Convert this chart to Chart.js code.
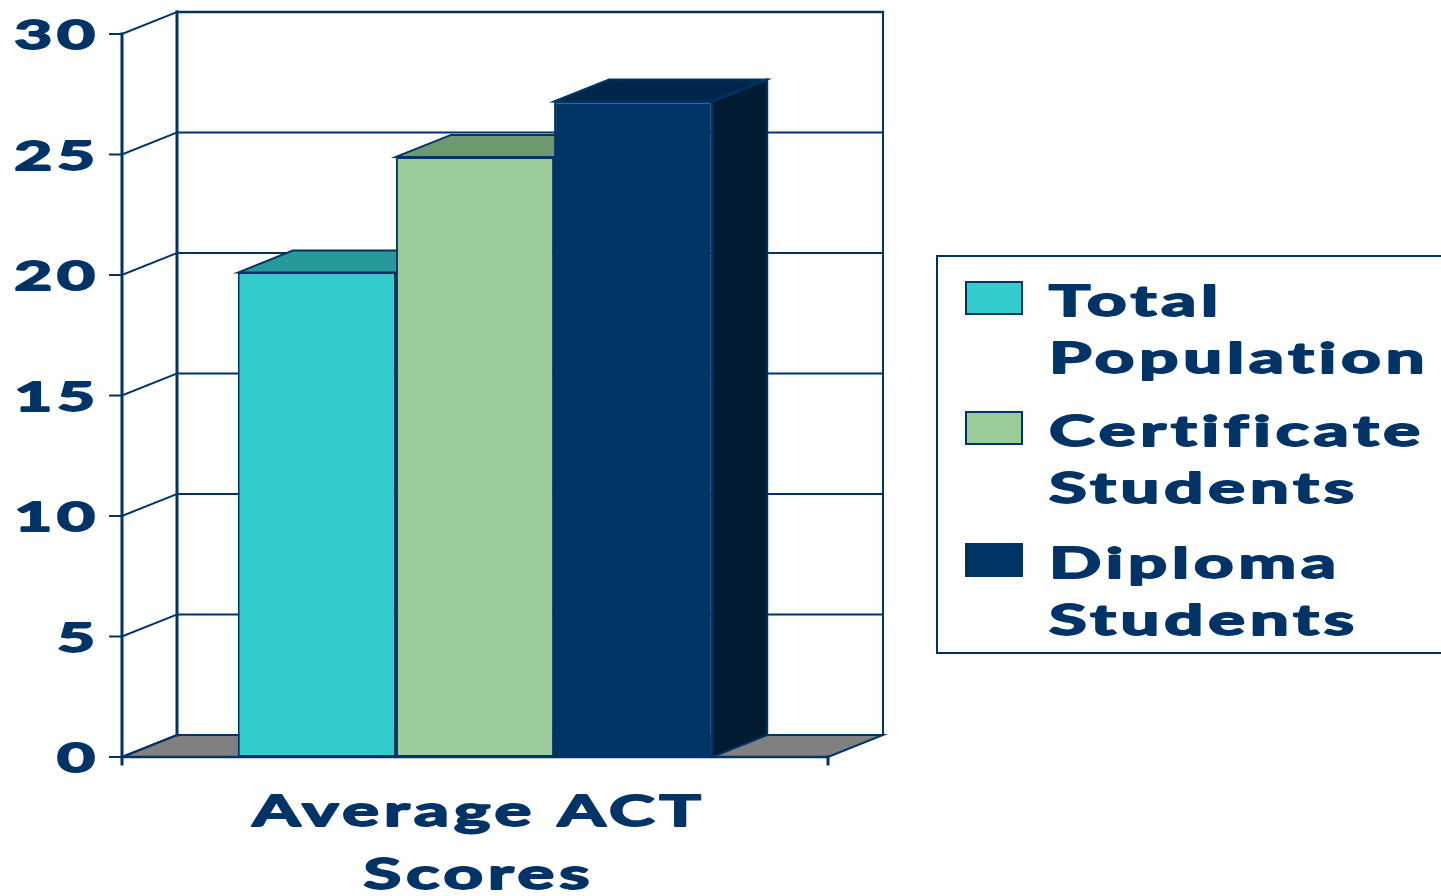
<!DOCTYPE html>
<html lang="en">
<head>
  <meta charset="UTF-8" />
  <title>Average ACT Scores</title>
  <style>
    html, body { margin: 0; padding: 0; background: #fff; }
    #grafico { display: block; }
  </style>
</head>
<body>
  <canvas id="grafico" width="1441" height="896"></canvas>

  <script src="https://cdn.jsdelivr.net/npm/chart.js"></script>
  <script>
    // dados
    const categorias = ['Average ACT Scores'];
    const rotuloEixoX = ['Average ACT', 'Scores'];
    const series = ['Total Population', 'Certificate Students', 'Diploma Students'];
    const seriesLinhas = [['Total', 'Population'], ['Certificate', 'Students'], ['Diploma', 'Students']];
    const valores = [20.1, 24.9, 27.2];
    const ticksY = [0, 5, 10, 15, 20, 25, 30];

    // cores
    const azul = '#003366';
    const corFrente = ['#33CCCC', '#99CC99', '#003366'];
    const corTopo = ['#279999', '#6E9970', '#00264C'];
    const corLado = ['#1F7A7A', '#587A5A', '#021B33'];

    // profundidade do efeito 3d
    const dx = 55;
    const dy = -22;
    const fonte = '"Lato", "DejaVu Sans", sans-serif';
    const espaco = '3px';
    let esticar = 1.7;

    function textoEsticado(ctx, texto, x, y, alinhamento, tamanho) {
      ctx.save();
      ctx.font = 'bold ' + tamanho + 'px ' + fonte;
      ctx.letterSpacing = espaco;
      ctx.fillStyle = azul;
      ctx.strokeStyle = azul;
      ctx.lineWidth = 1.8;
      ctx.lineJoin = 'round';
      ctx.textBaseline = 'alphabetic';
      const w = ctx.measureText(texto).width * esticar;
      let x0 = x;
      if (alinhamento === 'right') x0 = x - w;
      if (alinhamento === 'center') x0 = x - w / 2;
      ctx.translate(x0, y);
      ctx.scale(esticar, 1);
      ctx.textAlign = 'left';
      ctx.fillText(texto, 0, 0);
      ctx.strokeText(texto, 0, 0);
      ctx.restore();
    }

    function linha(ctx, x1, y1, x2, y2, largura) {
      ctx.beginPath();
      ctx.moveTo(x1, y1);
      ctx.lineTo(x2, y2);
      ctx.lineWidth = largura;
      ctx.strokeStyle = azul;
      ctx.stroke();
    }

    const plugin3d = {
      id: 'plugin3d',
      beforeDatasetsDraw(chart) {
        const ctx = chart.ctx;
        const area = chart.chartArea;
        const y = chart.scales.y;
        const base = y.getPixelForValue(0);

        ctx.save();
        ctx.lineCap = 'square';

        // chao
        ctx.beginPath();
        ctx.moveTo(area.left, base);
        ctx.lineTo(area.right, base);
        ctx.lineTo(area.right + dx, base + dy);
        ctx.lineTo(area.left + dx, base + dy);
        ctx.closePath();
        ctx.fillStyle = '#808080';
        ctx.fill();
        ctx.lineWidth = 2;
        ctx.strokeStyle = azul;
        ctx.stroke();

        // parede do fundo e grade
        ticksY.forEach(v => {
          const py = y.getPixelForValue(v);
          linha(ctx, area.left + dx, py + dy, area.right + dx, py + dy, v === 30 ? 2.5 : 1.8);
          linha(ctx, area.left, py, area.left + dx, py + dy, 2);
          linha(ctx, area.left - 12, py, area.left, py, 2);
        });
        linha(ctx, area.left + dx, area.top + dy, area.left + dx, base + dy, 3);
        linha(ctx, area.right + dx, area.top + dy, area.right + dx, base + dy, 2);
        linha(ctx, area.left, area.top, area.left, base + 7, 3);
        linha(ctx, area.left, base, area.right, base, 2.5);
        linha(ctx, area.right, base, area.right, base + 7, 3);

        // lados e topos das barras
        chart.data.datasets.forEach((ds, i) => {
          const barra = chart.getDatasetMeta(i).data[0];
          const esq = barra.x - barra.width / 2;
          const dir = barra.x + barra.width / 2;
          const topo = barra.y;
          const fundo = barra.base;

          ctx.beginPath();
          ctx.moveTo(dir, topo);
          ctx.lineTo(dir + dx, topo + dy);
          ctx.lineTo(dir + dx, fundo + dy);
          ctx.lineTo(dir, fundo);
          ctx.closePath();
          ctx.fillStyle = corLado[i];
          ctx.fill();
          ctx.lineWidth = 2;
          ctx.strokeStyle = azul;
          ctx.stroke();

          ctx.beginPath();
          ctx.moveTo(esq, topo);
          ctx.lineTo(esq + dx, topo + dy);
          ctx.lineTo(dir + dx, topo + dy);
          ctx.lineTo(dir, topo);
          ctx.closePath();
          ctx.fillStyle = corTopo[i];
          ctx.fill();
          ctx.stroke();
        });
        ctx.restore();
      },
      afterDraw(chart) {
        const ctx = chart.ctx;
        const y = chart.scales.y;
        const x = chart.scales.x;

        // esticamento horizontal do texto, como no original
        ctx.save();
        ctx.font = 'bold 42px ' + fonte;
        ctx.letterSpacing = espaco;
        esticar = 376 / ctx.measureText('Certificate').width;
        ctx.restore();

        // rotulos do eixo y
        ticksY.forEach(v => {
          const py = y.getPixelForValue(v);
          textoEsticado(ctx, String(v), 100, py + 15, 'right', 40);
        });

        // rotulo da categoria
        const cx = x.getPixelForValue(0);
        rotuloEixoX.forEach((t, i) => {
          textoEsticado(ctx, t, cx + 4, 826 + i * 63, 'center', 42);
        });

        // legenda
        ctx.save();
        ctx.lineWidth = 2;
        ctx.strokeStyle = azul;
        ctx.strokeRect(937, 256, 600, 397);
        const inicios = [316, 446, 578];
        seriesLinhas.forEach((linhas, i) => {
          const by = inicios[i];
          ctx.fillStyle = corFrente[i];
          ctx.fillRect(966, by - 34, 56, 32);
          ctx.strokeStyle = azul;
          ctx.strokeRect(966, by - 34, 56, 32);
          linhas.forEach((t, j) => {
            textoEsticado(ctx, t, 1049, by + j * 57, 'left', 42);
          });
        });
        ctx.restore();
      }
    };

    const dados = {
      labels: categorias,
      datasets: series.map((nome, i) => ({
        label: nome,
        data: [valores[i]],
        backgroundColor: corFrente[i],
        borderColor: azul,
        borderWidth: 2,
        borderSkipped: false,
        categoryPercentage: 0.672,
        barPercentage: 1.0
      }))
    };

    const config = {
      type: 'bar',
      data: dados,
      options: {
        responsive: false,
        animation: false,
        layout: {
          padding: { left: 122, right: 613, top: 34, bottom: 139 }
        },
        plugins: {
          legend: { display: false },
          tooltip: { enabled: false }
        },
        scales: {
          x: { display: false },
          y: {
            display: false,
            min: 0,
            max: 30,
            ticks: { stepSize: 5 }
          }
        }
      },
      plugins: [plugin3d]
    };

    new Chart(document.getElementById('grafico'), config);
  </script>
</body>
</html>
